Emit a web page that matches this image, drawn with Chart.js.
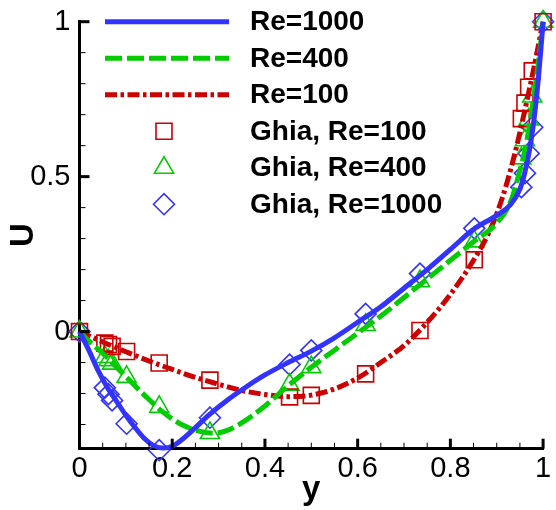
<!DOCTYPE html>
<html>
<head>
<meta charset="utf-8">
<script src="https://cdn.jsdelivr.net/npm/chart.js@4.4.1/dist/chart.umd.min.js"></script>
<style>
  html, body { margin: 0; padding: 0; background: #fff; }
</style>
</head>
<body>
<canvas id="grafico" width="556" height="510"></canvas>
<script>
// Perfil de velocidad U sobre la linea central vertical de la cavidad
const AZUL = '#3333ff';
const VERDE = '#00cc00';
const ROJO = '#cc0000';

// Resultados numericos (curvas)
const yRe1000 = [0, 0.02, 0.04, 0.06, 0.08, 0.1, 0.12, 0.14, 0.16, 0.18, 0.2, 0.22, 0.25, 0.28, 0.32, 0.36, 0.4, 0.45, 0.5, 0.55, 0.6, 0.65, 0.7, 0.75, 0.8, 0.85, 0.9, 0.93, 0.95, 0.96, 0.97, 0.98, 0.99, 1];
const uRe1000 = [0, -0.06, -0.125, -0.18, -0.225, -0.27, -0.31, -0.345, -0.368, -0.376, -0.37, -0.35, -0.31, -0.268, -0.22, -0.178, -0.14, -0.1, -0.063, -0.02, 0.03, 0.08, 0.14, 0.2, 0.265, 0.33, 0.375, 0.41, 0.46, 0.51, 0.58, 0.68, 0.82, 1];

const yRe400 = [0, 0.02, 0.05, 0.08, 0.1, 0.14, 0.18, 0.22, 0.26, 0.29, 0.32, 0.36, 0.4, 0.45, 0.5, 0.55, 0.6, 0.65, 0.7, 0.75, 0.8, 0.85, 0.9, 0.93, 0.95, 0.96, 0.97, 0.98, 0.99, 1];
const uRe400 = [0, -0.03, -0.07, -0.115, -0.145, -0.205, -0.26, -0.3, -0.322, -0.328, -0.318, -0.285, -0.24, -0.175, -0.115, -0.06, -0.005, 0.05, 0.11, 0.17, 0.23, 0.29, 0.35, 0.42, 0.52, 0.58, 0.66, 0.76, 0.87, 1];

const yRe100 = [0, 0.03, 0.06, 0.1, 0.15, 0.2, 0.25, 0.3, 0.35, 0.4, 0.45, 0.5, 0.55, 0.6, 0.65, 0.7, 0.75, 0.8, 0.85, 0.88, 0.9, 0.92, 0.94, 0.96, 0.98, 1];
const uRe100 = [0, -0.02, -0.04, -0.065, -0.095, -0.122, -0.148, -0.17, -0.19, -0.203, -0.21, -0.205, -0.185, -0.15, -0.1, -0.045, 0.03, 0.12, 0.23, 0.31, 0.38, 0.47, 0.58, 0.71, 0.85, 1];

// Datos de referencia de Ghia et al.
const yGhia = [0, 0.0547, 0.0625, 0.0703, 0.1016, 0.1719, 0.2813, 0.4531, 0.5, 0.6172, 0.7344, 0.8516, 0.9531, 0.9609, 0.9688, 0.9766, 1];
const uGhia100 = [0, -0.03717, -0.04192, -0.04775, -0.06434, -0.1015, -0.15662, -0.2109, -0.20581, -0.13641, 0.00332, 0.23151, 0.68717, 0.73722, 0.78871, 0.84123, 1];
const uGhia400 = [0, -0.08186, -0.09266, -0.10338, -0.14612, -0.24299, -0.32726, -0.17119, -0.11477, 0.02135, 0.16256, 0.29093, 0.55892, 0.61756, 0.68439, 0.75837, 1];
const uGhia1000 = [0, -0.18109, -0.20196, -0.2222, -0.2973, -0.38289, -0.27805, -0.10648, -0.0608, 0.05702, 0.18719, 0.33304, 0.46604, 0.51117, 0.57492, 0.65928, 1];

// Etiquetas de los ejes
const ticksX = [0, 0.2, 0.4, 0.6, 0.8, 1];
const ticksY = [0, 0.5, 1];

const pares = (xs, ys) => xs.map((v, i) => ({ x: v, y: ys[i] }));

function curva(label, xs, ys, color, dash) {
    return {
        label: label,
        data: pares(xs, ys),
        borderColor: color,
        backgroundColor: color,
        borderWidth: 5,
        borderDash: dash,
        pointRadius: 0,
        showLine: true,
        fill: false,
        cubicInterpolationMode: 'monotone',
        clip: false
    };
}

function simbolos(label, ys, color, estilo, radio) {
    return {
        label: label,
        data: pares(yGhia, ys),
        borderColor: color,
        backgroundColor: 'rgba(0,0,0,0)',
        pointStyle: estilo,
        pointRadius: radio,
        pointBorderWidth: 1.6,
        showLine: false,
        clip: false
    };
}

const datasets = [
    curva('Re=1000', yRe1000, uRe1000, AZUL, []),
    curva('Re=400', yRe400, uRe400, VERDE, [17, 5]),
    curva('Re=100', yRe100, uRe100, ROJO, [12, 3.5, 3.5, 3.5]),
    simbolos('Ghia, Re=100', uGhia100, ROJO, 'rect', 11.3),
    simbolos('Ghia, Re=400', uGhia400, VERDE, 'triangle', 11),
    simbolos('Ghia, Re=1000', uGhia1000, AZUL, 'rectRot', 10.5)
];

// Marcas de los ejes hacia dentro (mayores y menores)
const marcasInternas = {
    id: 'marcasInternas',
    afterDraw(chart) {
        const { ctx, chartArea: a, scales: { x, y } } = chart;
        ctx.save();
        ctx.strokeStyle = '#000';
        const raya = (x1, y1, x2, y2, w) => {
            ctx.lineWidth = w;
            ctx.beginPath();
            ctx.moveTo(x1, y1);
            ctx.lineTo(x2, y2);
            ctx.stroke();
        };
        for (let i = 0; i <= 20; i++) {
            const v = i * 0.05;
            const px = x.getPixelForValue(v);
            const mayor = i % 4 === 0;
            raya(px, a.bottom, px, a.bottom - (mayor ? 10 : 6), mayor ? 3 : 1);
        }
        for (let i = -3; i <= 10; i++) {
            const v = i * 0.1;
            const py = y.getPixelForValue(v);
            const mayor = i % 5 === 0;
            raya(a.left, py, a.left + (mayor ? 10 : 6), py, mayor ? 3 : 1);
        }
        ctx.restore();
    }
};

// Leyenda dibujada dentro del area del grafico
const leyenda = {
    id: 'leyenda',
    afterDraw(chart) {
        const ctx = chart.ctx;
        const top = 21.7, paso = 36.5;
        ctx.save();
        chart.data.datasets.forEach((ds, i) => {
            const yy = top + i * paso;
            if (ds.showLine) {
                ctx.strokeStyle = ds.borderColor;
                ctx.lineWidth = ds.borderWidth;
                ctx.setLineDash(ds.borderDash);
                ctx.beginPath();
                ctx.moveTo(105, yy);
                ctx.lineTo(229, yy);
                ctx.stroke();
                ctx.setLineDash([]);
            } else {
                ctx.strokeStyle = ds.borderColor;
                ctx.lineWidth = ds.pointBorderWidth;
                ctx.fillStyle = 'rgba(0,0,0,0)';
                Chart.helpers.drawPoint(ctx, {
                    pointStyle: ds.pointStyle,
                    radius: ds.pointRadius,
                    rotation: 0,
                    borderWidth: ds.pointBorderWidth
                }, 164, yy);
            }
            ctx.fillStyle = '#000';
            ctx.font = 'bold 28px "Liberation Sans", Arial, sans-serif';
            ctx.textBaseline = 'middle';
            ctx.textAlign = 'left';
            ctx.fillText(ds.label, 250, yy + 1);
        });
        ctx.restore();
    }
};

const fuenteTicks = { family: '"Liberation Sans", Arial, sans-serif', size: 29 };
const fuenteTitulo = { family: '"Liberation Sans", Arial, sans-serif', size: 33, weight: 'bold' };

new Chart(document.getElementById('grafico'), {
    type: 'scatter',
    data: { datasets: datasets },
    options: {
        responsive: false,
        animation: false,
        layout: { padding: { top: 21.7, right: 9.3, left: 0, bottom: 0 } },
        plugins: {
            legend: { display: false },
            tooltip: { enabled: false }
        },
        scales: {
            x: {
                type: 'linear',
                min: 0,
                max: 1,
                afterBuildTicks: (s) => { s.ticks = ticksX.map(v => ({ value: v })); },
                afterFit: (s) => {
                    s.height = 61.3;
                    s.paddingLeft = 0;
                    s.paddingRight = 0;
                },
                grid: { display: true, drawOnChartArea: false, drawTicks: false },
                border: { display: true, color: '#000', width: 3 },
                ticks: {
                    color: '#000',
                    font: fuenteTicks,
                    padding: 3,
                    maxRotation: 0,
                    callback: (v) => String(v)
                },
                title: { display: true, text: 'y', color: '#000', font: fuenteTitulo, padding: 0 }
            },
            y: {
                type: 'linear',
                min: -0.378,
                max: 1,
                afterBuildTicks: (s) => { s.ticks = ticksY.map(v => ({ value: v })); },
                afterFit: (s) => {
                    s.width = 79.5;
                    s.paddingTop = 0;
                    s.paddingBottom = 0;
                },
                grid: { display: true, drawOnChartArea: false, drawTicks: false },
                border: { display: true, color: '#000', width: 3 },
                ticks: {
                    color: '#000',
                    font: fuenteTicks,
                    padding: 9,
                    callback: (v) => String(v)
                },
                title: { display: true, text: 'U', color: '#000', font: fuenteTitulo, padding: { top: 4, bottom: 0 } }
            }
        }
    },
    plugins: [marcasInternas, leyenda]
});
</script>
</body>
</html>
